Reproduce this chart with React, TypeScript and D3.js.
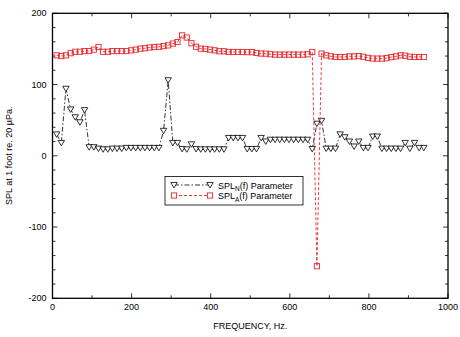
import React from "react";
import * as d3 from "d3";

const freqs = [
  10.5, 22.3, 34, 45.8, 57.5, 69.3, 81, 92.8, 104.5, 116.3,
  128, 139.8, 151.5, 163.3, 175, 186.8, 198.5, 210.3, 222, 233.8,
  245.5, 257.3, 269, 280.8, 292.5, 304.3, 316, 327.8, 339.5, 351.3,
  363, 374.8, 386.5, 398.3, 410, 421.8, 433.5, 445.3, 457, 468.8,
  480.5, 492.3, 504, 515.8, 527.5, 539.3, 551, 562.8, 574.5, 586.3,
  598, 609.8, 621.5, 633.3, 645, 656.8, 668.5, 680.3, 692, 703.8,
  715.5, 727.3, 739, 750.8, 762.5, 774.3, 786, 797.8, 809.5, 821.3,
  833, 844.8, 856.5, 868.3, 880, 891.8, 903.5, 915.3, 927, 938.8,
];

const splN = [
  30, 18, 94, 65, 54, 47, 64, 12, 12, 10,
  9, 9, 10, 10, 10, 11, 11, 11, 11, 11,
  11, 11, 11, 35, 106, 18, 18, 9.5, 9, 16,
  9.5, 9, 9, 9, 9, 9, 9, 25, 25, 25,
  25, 9.5, 9.5, 9.5, 25, 20, 22.5, 22.5, 22.5, 22.5,
  22.5, 22.5, 22.5, 22.5, 22.5, 9.5, 45, 49, 10, 10,
  10, 30, 26, 20, 13, 20, 11, 11, 27, 27,
  10, 10, 10, 10, 10, 18, 10, 18, 11, 11,
];

const splA = [
  141, 140, 141, 144, 146, 146, 147, 147, 149, 152.7,
  146, 146, 147, 147, 147, 147, 148, 149, 150.4, 151,
  152, 152.7, 153, 154, 155, 157.5, 159.7, 169, 166, 158,
  153, 150.4, 150, 149, 148, 146.7, 146.7, 145.7, 145.7, 145.7,
  145.7, 145.5, 145.5, 144.3, 143.5, 143.4, 142.5, 142, 142, 142,
  142, 142, 142, 142, 142.5, 145.7, -155, 143.4, 141, 139.6,
  138.7, 138.7, 138.7, 139.5, 139.5, 140, 139, 137.5, 136.5, 136.4,
  136.4, 137, 138.5, 139.5, 141, 140.5, 139, 138.7, 138.7, 138.7,
];

const xTicks = [0, 200, 400, 600, 800, 1000];
const yTicks = [-200, -100, 0, 100, 200];

const W = 460;
const H = 337;
const L = 52.5;
const R = 448;
const T = 13.3;
const B = 298.3;

export default function App() {
  const x = d3.scaleLinear().domain([0, 1000]).range([L, R]);
  const y = d3.scaleLinear().domain([-200, 200]).range([B, T]);

  const ptsN = freqs.map((f, i) => [f, splN[i]] as [number, number]);
  const ptsA = freqs.map((f, i) => [f, splA[i]] as [number, number]);
  const line = d3
    .line<[number, number]>()
    .x((d) => x(d[0]))
    .y((d) => y(d[1]));

  const xMinor = d3.range(0, 1001, 100);
  const yMinor = d3.range(-200, 201, 20);
  const font = "'Liberation Sans', Arial, sans-serif";

  const tri = (cx: number, cy: number) => {
    const s = 3.2;
    return `M${cx - s},${cy - s * 0.8}L${cx + s},${cy - s * 0.8}L${cx},${cy + s * 0.9}Z`;
  };
  const sq = 2.6;

  return (
    <svg width={W} height={H} style={{ position: "absolute", left: 0, top: 0, background: "#fff" }}>
      {/* minor ticks */}
      {xMinor.map((v) => (
        <g key={"xm" + v}>
          <line x1={x(v)} x2={x(v)} y1={B} y2={B - (v % 200 === 0 ? 5 : 3)} stroke="#000" strokeWidth={0.8} />
          <line x1={x(v)} x2={x(v)} y1={T} y2={T + (v % 200 === 0 ? 5 : 3)} stroke="#000" strokeWidth={0.8} />
        </g>
      ))}
      {yMinor.map((v) => (
        <g key={"ym" + v}>
          <line x1={L} x2={L + (v % 100 === 0 ? 5 : 3)} y1={y(v)} y2={y(v)} stroke="#000" strokeWidth={0.8} />
          <line x1={R} x2={R - (v % 100 === 0 ? 5 : 3)} y1={y(v)} y2={y(v)} stroke="#000" strokeWidth={0.8} />
        </g>
      ))}
      <rect x={L} y={T} width={R - L} height={B - T} fill="none" stroke="#000" strokeWidth={1.3} />

      {xTicks.map((v) => (
        <text key={"xt" + v} x={x(v)} y={B + 12} textAnchor="middle" fontFamily={font} fontSize={9}>
          {v}
        </text>
      ))}
      {yTicks.map((v) => (
        <text key={"yt" + v} x={L - 6} y={y(v) + 3} textAnchor="end" fontFamily={font} fontSize={9}>
          {v}
        </text>
      ))}
      <text x={(L + R) / 2} y={B + 31} textAnchor="middle" fontFamily={font} fontSize={9}>
        FREQUENCY, Hz.
      </text>
      <text
        transform={`translate(12,${(T + B) / 2}) rotate(-90)`}
        textAnchor="middle"
        fontFamily={font}
        fontSize={9}
      >
        SPL at 1 foot re. 20 µPa.
      </text>

      {/* series N */}
      <path d={line(ptsN) || ""} fill="none" stroke="#000" strokeWidth={0.8} strokeDasharray="5,2,1.5,2" />
      {ptsN.map((d, i) => (
        <path key={"n" + i} d={tri(x(d[0]), y(d[1]))} fill="#fff" stroke="#000" strokeWidth={0.8} />
      ))}

      {/* series A */}
      <path d={line(ptsA) || ""} fill="none" stroke="#e8262a" strokeWidth={0.9} strokeDasharray="3,2" />
      {ptsA.map((d, i) => (
        <rect
          key={"a" + i}
          x={x(d[0]) - sq}
          y={y(d[1]) - sq}
          width={sq * 2}
          height={sq * 2}
          fill="none"
          stroke="#e8262a"
          strokeWidth={0.9}
        />
      ))}

      {/* legend */}
      <rect x={165} y={176.5} width={138} height={28.5} fill="#fff" stroke="#000" strokeWidth={0.8} />
      <line x1={174} x2={210} y1={185} y2={185} stroke="#000" strokeWidth={0.8} strokeDasharray="5,2,1.5,2" />
      <path d={tri(174, 185)} fill="#fff" stroke="#000" strokeWidth={0.8} />
      <path d={tri(210, 185)} fill="#fff" stroke="#000" strokeWidth={0.8} />
      <text x={218} y={188.5} fontFamily={font} fontSize={9}>
        SPL<tspan dy={2.5} fontSize={6.5}>N</tspan>
        <tspan dy={-2.5}>(f) Parameter</tspan>
      </text>
      <line x1={174} x2={210} y1={195.5} y2={195.5} stroke="#e8262a" strokeWidth={0.9} strokeDasharray="3,2" />
      <rect x={174 - sq} y={195.5 - sq} width={sq * 2} height={sq * 2} fill="#fff" stroke="#e8262a" strokeWidth={0.9} />
      <rect x={210 - sq} y={195.5 - sq} width={sq * 2} height={sq * 2} fill="#fff" stroke="#e8262a" strokeWidth={0.9} />
      <text x={218} y={199} fontFamily={font} fontSize={9}>
        SPL<tspan dy={2.5} fontSize={6.5}>A</tspan>
        <tspan dy={-2.5}>(f) Parameter</tspan>
      </text>
    </svg>
  );
}
